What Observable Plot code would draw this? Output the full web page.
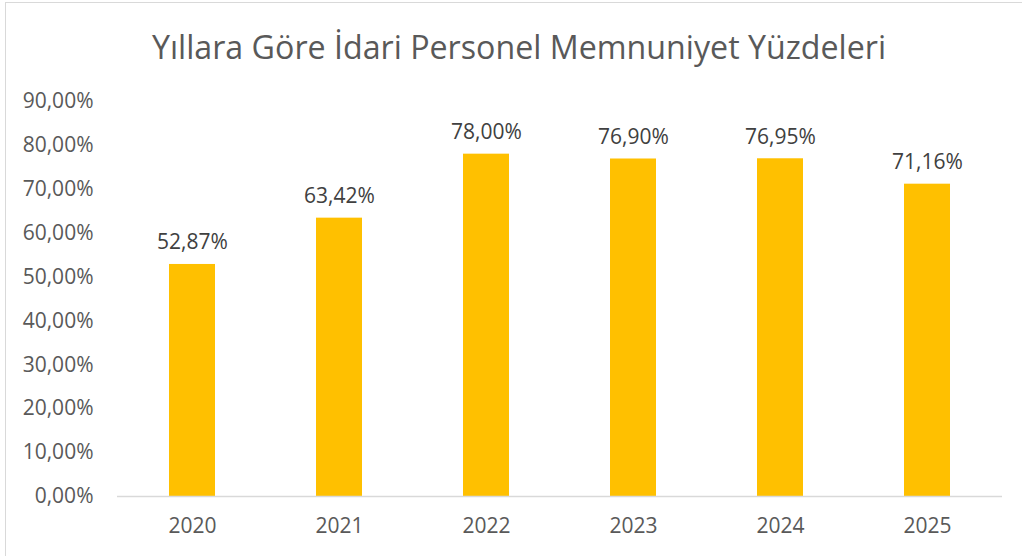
<!DOCTYPE html>
<html>
<head>
<meta charset="utf-8">
<script src="https://cdn.jsdelivr.net/npm/d3@7"></script>
<script src="https://cdn.jsdelivr.net/npm/@observablehq/plot@0.6"></script>
<style>
  html, body { margin: 0; padding: 0; background: #fff; }
  #frame { position: absolute; left: 5px; top: 2px; width: 1020px; height: 560px; border: 1px solid #d9d9d9; box-sizing: border-box; }
  #title { position: absolute; left: 8px; top: 0; width: 1022px; height: 80px; text-align: center;
           font-family: "Open Sans", sans-serif; font-size: 32.2px; color: #595959; line-height: 94px; white-space: nowrap; }
  #chart { position: absolute; left: 0; top: 80px; }
</style>
</head>
<body>
<div id="frame"></div>
<div id="title">Yıllara Göre İdari Personel Memnuniyet Yüzdeleri</div>
<div id="chart"></div>
<script>
const years = ["2020", "2021", "2022", "2023", "2024", "2025"];
const values = [0.5287, 0.6342, 0.78, 0.769, 0.7695, 0.7116];
const yTicks = [0, 0.1, 0.2, 0.3, 0.4, 0.5, 0.6, 0.7, 0.8, 0.9];

const data = years.map((y, i) => ({year: y, value: values[i]}));
const fmt = v => (v * 100).toFixed(2).replace(".", ",") + "%";

const plot = Plot.plot({
  width: 1022,
  height: 476,
  marginTop: 21,
  marginBottom: 60,
  marginLeft: 117,
  marginRight: 20,
  style: {fontFamily: "'Open Sans', sans-serif", fontSize: "21px", color: "#595959", background: "transparent"},
  x: {domain: years, paddingInner: 0.69, paddingOuter: 0.345, label: null},
  y: {domain: [0, 0.9], label: null},
  marks: [
    Plot.barY(data, {x: "year", y: "value", fill: "#FFC000"}),
    Plot.ruleY([0], {stroke: "#d9d9d9", strokeWidth: 1.5}),
    Plot.axisY({ticks: yTicks, tickFormat: fmt, tickSize: 0, tickPadding: 24, label: null, fill: "#595959"}),
    Plot.axisX({tickSize: 0, tickPadding: 22, label: null, fill: "#595959"}),
    Plot.text(data, {x: "year", y: "value", text: d => fmt(d.value), lineAnchor: "bottom", dy: -15, fill: "#404040", fontSize: 21})
  ]
});
document.getElementById("chart").appendChild(plot);
</script>
</body>
</html>
